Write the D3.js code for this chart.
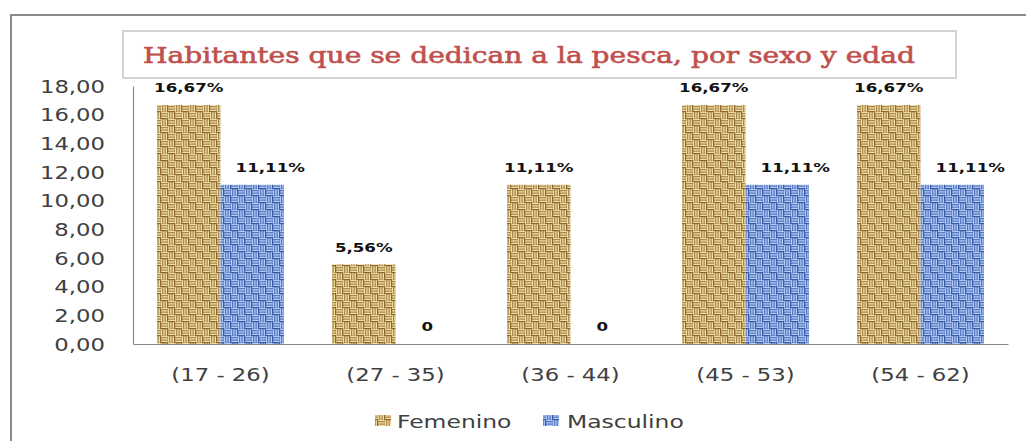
<!DOCTYPE html>
<html><head><meta charset="utf-8">
<script src="https://cdn.jsdelivr.net/npm/d3@7"></script>
<style>html,body{margin:0;padding:0;background:#fff;}svg{display:block;}</style>
</head><body>
<script>
const categories = ["(17 - 26)", "(27 - 35)", "(36 - 44)", "(45 - 53)", "(54 - 62)"];
const seriesNames = ["Femenino", "Masculino"];
const femenino = [16.67, 5.56, 11.11, 16.67, 16.67];
const masculino = [11.11, 0, 0, 11.11, 11.11];
const yTicks = [0, 2, 4, 6, 8, 10, 12, 14, 16, 18];
const titleText = "Habitantes que se dedican a la pesca, por sexo y edad";

(function() {
const W = 1026, H = 441;
const svg = d3.select("body").append("svg").attr("width", W).attr("height", H);
svg.append("rect").attr("width", W).attr("height", H).attr("fill", "#fff");

// woven texture patterns
const defs = svg.append("defs");
function weave(id, base, light, dark) {
  const q = 7, T = 14, n = 3, st = q / n;
  const p = defs.append("pattern").attr("id", id).attr("patternUnits", "userSpaceOnUse")
    .attr("width", T).attr("height", T);
  p.append("rect").attr("width", T).attr("height", T).attr("fill", base);
  [[0,0,"h"],[q,0,"v"],[0,q,"v"],[q,q,"h"]].forEach(([qx,qy,o]) => {
    for (let i = 0; i < n; i++) {
      if (o === "h") {
        p.append("rect").attr("x", qx + 0.5).attr("y", qy + i*st).attr("width", q - 1).attr("height", st*0.6).attr("fill", light);
        p.append("rect").attr("x", qx).attr("y", qy + i*st + st*0.6).attr("width", q).attr("height", st*0.4).attr("fill", dark);
      } else {
        p.append("rect").attr("x", qx + i*st).attr("y", qy + 0.5).attr("width", st*0.6).attr("height", q - 1).attr("fill", light);
        p.append("rect").attr("x", qx + i*st + st*0.6).attr("y", qy).attr("width", st*0.4).attr("height", q).attr("fill", dark);
      }
    }
  });
}
weave("patF", "#d3b574", "#f0dba2", "#86632b");
weave("patM", "#7b9ee4", "#b2cbf6", "#34569f");

// outer border
svg.append("path").attr("d", `M11,${H} L11,15 L${W},15`).attr("fill", "none")
  .attr("stroke", "#8a8a8a").attr("stroke-width", 2);

const pLeft = 133, pRight = 1008, pTop = 86, pBottom = 344;
const x0 = d3.scaleBand().domain(categories).range([pLeft, pRight]).paddingInner(0).paddingOuter(0);
const x1 = d3.scaleBand().domain(seriesNames).range([0, x0.bandwidth()]).paddingInner(0).paddingOuter(0.378);
const y = d3.scaleLinear().domain([0, 18]).range([pBottom, pTop]);
const fmt = v => v.toFixed(2).replace(".", ",");
const color = {Femenino: "url(#patF)", Masculino: "url(#patM)"};

// title box
svg.append("rect").attr("x", 123).attr("y", 31).attr("width", 833).attr("height", 47)
  .attr("fill", "#fff").attr("stroke", "#d4d4d4").attr("stroke-width", 2);
svg.append("text").attr("x", 143).attr("y", 63).attr("font-family", "'DejaVu Serif', serif")
  .attr("font-size", 23).attr("fill", "#c0504d").attr("stroke", "#c0504d").attr("stroke-width", 0.6)
  .attr("textLength", 772).attr("lengthAdjust", "spacingAndGlyphs")
  .text(titleText);

function stretched(g, x, yy, txt, opts) {
  return g.append("text")
    .attr("transform", `translate(${x},${yy}) scale(${opts.sx},1)`)
    .attr("text-anchor", opts.anchor || "middle")
    .attr("dominant-baseline", "central")
    .attr("font-family", "'DejaVu Sans', sans-serif")
    .attr("font-size", opts.size)
    .attr("font-weight", opts.weight || "normal")
    .attr("fill", opts.fill || "#404040")
    .text(txt);
}

// y axis
const yAxis = d3.axisLeft(y).tickValues(yTicks).tickFormat(fmt).tickSize(0).tickPadding(0);
const gy = svg.append("g").attr("transform", `translate(${pLeft},0)`).call(yAxis);
gy.select(".domain").attr("stroke", "#8a8a8a").attr("stroke-width", 1.2);
gy.selectAll(".tick text").each(function(d) {
  const g = d3.select(this.parentNode);
  d3.select(this).remove();
  stretched(g, -28, 0, fmt(d), {sx: 1.3, size: 17.5, anchor: "end"});
});

// bars
const data = categories.map((c, i) => ({cat: c, vals: [
  {name: "Femenino", v: femenino[i]}, {name: "Masculino", v: masculino[i]}]}));
const groups = svg.append("g").selectAll("g").data(data).join("g")
  .attr("transform", d => `translate(${x0(d.cat)},0)`);
groups.selectAll("rect").data(d => d.vals).join("rect")
  .attr("x", d => x1(d.name)).attr("width", x1.bandwidth())
  .attr("y", d => y(d.v)).attr("height", d => y(0) - y(d.v))
  .attr("fill", d => color[d.name]);
groups.each(function(d) {
  const g = d3.select(this);
  d.vals.forEach(s => {
    const cx = x1(s.name) + x1.bandwidth() / 2 + (s.name === "Masculino" && s.v > 0 ? 18 : 0);
    const label = s.v === 0 ? "0" : s.v.toFixed(2).replace(".", ",") + "%";
    stretched(g, cx, y(s.v) - 17, label, {sx: 1.28, size: 13, weight: "bold", fill: "#111"});
  });
});

// x axis
const xAxis = d3.axisBottom(x0).tickSize(0).tickPadding(0);
const gx = svg.append("g").attr("transform", `translate(0,${pBottom})`).call(xAxis);
gx.select(".domain").attr("stroke", "#8a8a8a").attr("stroke-width", 1.2);
gx.selectAll(".tick text").each(function(d) {
  const g = d3.select(this.parentNode);
  d3.select(this).remove();
  stretched(g, 0, 31, d, {sx: 1.3, size: 17.5});
});

// legend
const legend = svg.append("g");
const legendItems = [{name: "Femenino", sx: 375, tx: 397}, {name: "Masculino", sx: 543, tx: 567}];
legendItems.forEach(it => {
  legend.append("rect").attr("x", it.sx).attr("y", 415).attr("width", 16).attr("height", 11)
    .attr("fill", color[it.name]);
  stretched(legend, it.tx, 422, it.name, {sx: 1.38, size: 17, anchor: "start"});
});
})();
</script>
</body></html>
